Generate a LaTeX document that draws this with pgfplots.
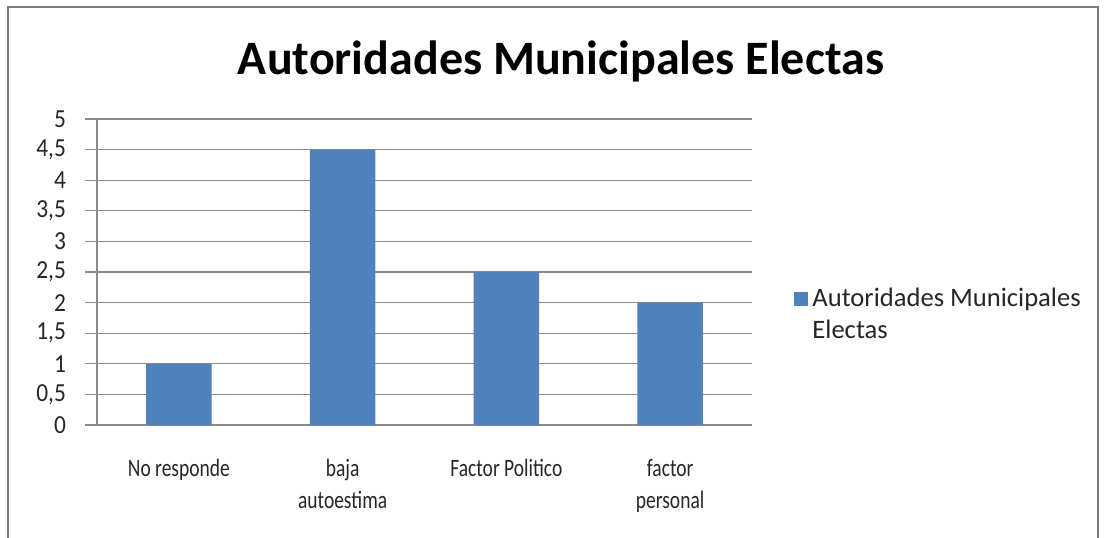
\documentclass[border=0pt]{standalone}
\usepackage{fontspec}
\setmainfont{Carlito}
\newfontfamily\catfont[FakeStretch=0.78]{Carlito}
\newfontfamily\tickfont[FakeStretch=0.9]{Carlito}
\usepackage{pgfplots}
\pgfplotsset{compat=1.18}
\definecolor{barblue}{HTML}{4F81BD}
\definecolor{gridgray}{HTML}{8A8A8A}
\definecolor{axisgray}{HTML}{8A8A8A}
\definecolor{framegray}{HTML}{7A7A7A}
\definecolor{textgray}{HTML}{262626}
\begin{document}
\begin{tikzpicture}[x=1pt,y=1pt]
\useasboundingbox (0,0) rectangle (553,268.5);
\draw[framegray, line width=1pt] (4,-3) -- (4,265) -- (549,265) -- (549,-3);
\node[anchor=base, font=\fontsize{24}{28}\selectfont\bfseries] at (280.5,231.5) {Autoridades Municipales Electas};
\begin{axis}[
  at={(48.5pt,56pt)}, anchor=south west,
  scale only axis, width=327.5pt, height=153pt,
  xmin=-0.5, xmax=3.5, ymin=0, ymax=5,
  axis x line*=bottom, axis y line*=left,
  axis line style={axisgray, line width=0.6pt},
  ybar, bar width=0.4,
  ytick={0,0.5,1,1.5,2,2.5,3,3.5,4,4.5,5},
  ymajorgrids, major grid style={gridgray, line width=0.6pt},
  tick align=outside, major tick length=6pt,
  tick style={axisgray, line width=0.6pt},
  xtick={0,1,2,3},
  xticklabels={No responde, {baja\\autoestima}, Factor Politico, {factor\\personal}},
  x tick style={draw=none},
  extra x ticks={-0.5,0.5,1.5,2.5,3.5},
  extra x tick labels={},
  extra x tick style={grid=none, major tick length=4.5pt, tick style={axisgray, line width=0.6pt}},
  xticklabel style={align=center, font=\catfont\fontsize{12.5}{16}\selectfont, text=textgray, yshift=-7.5pt},
  yticklabel style={font=\tickfont\fontsize{13}{14}\selectfont, text=textgray, xshift=-6pt},
  /pgf/number format/.cd, use comma, assume math mode=true,
  /pgfplots/.cd,
  legend style={draw=none, fill=none, at={(1.055,0.36)}, anchor=west,
    font=\fontsize{13.3}{16}\selectfont, text=textgray,
    nodes={align=left}},
  legend cell align=left,
  legend image code/.code={\fill[barblue] (0pt,4.5pt) rectangle (7pt,11.5pt);},
]
\addplot[fill=barblue, draw=none] coordinates {(0,1) (1,4.5) (2,2.5) (3,2)};
\addlegendentry{Autoridades Municipales\\Electas}
\end{axis}
\end{tikzpicture}
\end{document}
